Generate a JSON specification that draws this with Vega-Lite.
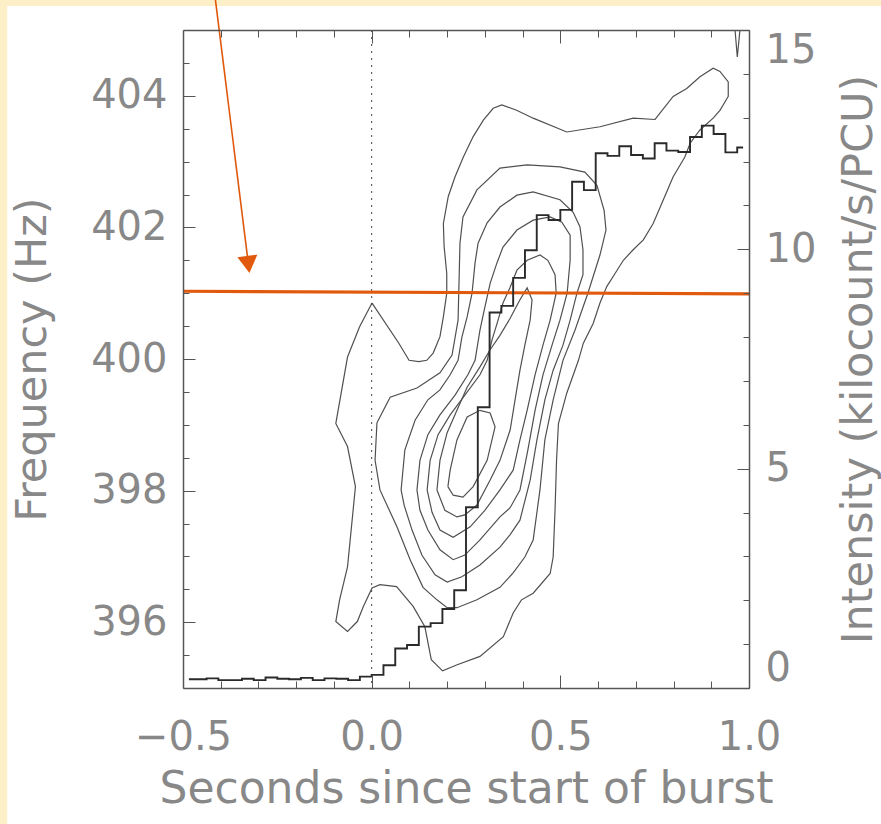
{
  "$schema": "https://vega.github.io/schema/vega-lite/v6.json",
  "width": 566,
  "height": 658,
  "autosize": {"type": "none"},
  "padding": {"left": 183, "top": 30, "right": 132, "bottom": 136},
  "background": "#fdefc7",
  "config": {
    "view": {"stroke": null},
    "axis": {"grid": false, "domainColor": "#555", "domainWidth": 1.5, "tickColor": "#555", "tickWidth": 1,
      "labelFont": "DejaVu Sans", "labelFontSize": 40, "labelColor": "#888", "labelOverlap": false, "labelBound": false,
      "titleFont": "DejaVu Sans", "titleFontSize": 43, "titleFontWeight": "normal", "titleColor": "#888"}
  },
  "datasets": {
    "contours": [
      {"c":1,"i":1,"t":0.001,"f":400.85},{"c":1,"i":2,"t":-0.032,"f":400.49},{"c":1,"i":3,"t":-0.064,"f":400.03},{"c":1,"i":4,"t":-0.095,"f":399.02},{"c":1,"i":5,"t":-0.064,"f":398.67},{"c":1,"i":6,"t":-0.043,"f":398.06},{"c":1,"i":7,"t":-0.064,"f":396.84},{"c":1,"i":8,"t":-0.085,"f":396.34},{"c":1,"i":9,"t":-0.095,"f":396.01},{"c":1,"i":10,"t":-0.064,"f":395.86},
      {"c":1,"i":11,"t":-0.038,"f":396.01},{"c":1,"i":12,"t":-0.022,"f":396.24},{"c":1,"i":13,"t":0.001,"f":396.52},{"c":1,"i":14,"t":0.022,"f":396.57},{"c":1,"i":15,"t":0.066,"f":396.54},{"c":1,"i":16,"t":0.110,"f":396.24},{"c":1,"i":17,"t":0.141,"f":395.93},{"c":1,"i":18,"t":0.158,"f":395.43},{"c":1,"i":19,"t":0.188,"f":395.26},{"c":1,"i":20,"t":0.225,"f":395.35},
      {"c":1,"i":21,"t":0.287,"f":395.48},{"c":1,"i":22,"t":0.349,"f":395.78},{"c":1,"i":23,"t":0.375,"f":396.14},{"c":1,"i":24,"t":0.397,"f":396.34},{"c":1,"i":25,"t":0.428,"f":396.44},{"c":1,"i":26,"t":0.473,"f":396.74},{"c":1,"i":27,"t":0.481,"f":396.99},{"c":1,"i":28,"t":0.486,"f":397.71},{"c":1,"i":29,"t":0.490,"f":398.47},{"c":1,"i":30,"t":0.495,"f":399.02},
      {"c":1,"i":31,"t":0.517,"f":399.48},{"c":1,"i":32,"t":0.548,"f":399.98},{"c":1,"i":33,"t":0.561,"f":400.24},{"c":1,"i":34,"t":0.587,"f":400.54},{"c":1,"i":35,"t":0.605,"f":400.85},{"c":1,"i":36,"t":0.623,"f":401.10},{"c":1,"i":37,"t":0.645,"f":401.30},{"c":1,"i":38,"t":0.667,"f":401.50},{"c":1,"i":39,"t":0.693,"f":401.66},{"c":1,"i":40,"t":0.720,"f":401.81},
      {"c":1,"i":41,"t":0.746,"f":402.06},{"c":1,"i":42,"t":0.773,"f":402.42},{"c":1,"i":43,"t":0.799,"f":402.77},{"c":1,"i":44,"t":0.830,"f":403.07},{"c":1,"i":45,"t":0.844,"f":403.28},{"c":1,"i":46,"t":0.870,"f":403.48},{"c":1,"i":47,"t":0.905,"f":403.66},{"c":1,"i":48,"t":0.923,"f":403.78},{"c":1,"i":49,"t":0.945,"f":403.99},{"c":1,"i":50,"t":0.945,"f":404.21},
      {"c":1,"i":51,"t":0.923,"f":404.37},{"c":1,"i":52,"t":0.905,"f":404.42},{"c":1,"i":53,"t":0.870,"f":404.29},{"c":1,"i":54,"t":0.835,"f":404.11},{"c":1,"i":55,"t":0.799,"f":403.99},{"c":1,"i":56,"t":0.751,"f":403.64},{"c":1,"i":57,"t":0.693,"f":403.66},{"c":1,"i":58,"t":0.605,"f":403.53},{"c":1,"i":59,"t":0.517,"f":403.45},{"c":1,"i":60,"t":0.428,"f":403.66},
      {"c":1,"i":61,"t":0.384,"f":403.78},{"c":1,"i":62,"t":0.345,"f":403.86},{"c":1,"i":63,"t":0.322,"f":403.81},{"c":1,"i":64,"t":0.296,"f":403.63},{"c":1,"i":65,"t":0.269,"f":403.38},{"c":1,"i":66,"t":0.243,"f":403.07},{"c":1,"i":67,"t":0.221,"f":402.77},{"c":1,"i":68,"t":0.203,"f":402.47},{"c":1,"i":69,"t":0.190,"f":402.06},{"c":1,"i":70,"t":0.192,"f":401.71},
      {"c":1,"i":71,"t":0.199,"f":401.30},{"c":1,"i":72,"t":0.199,"f":401.00},{"c":1,"i":73,"t":0.190,"f":400.64},{"c":1,"i":74,"t":0.181,"f":400.34},{"c":1,"i":75,"t":0.163,"f":400.09},{"c":1,"i":76,"t":0.146,"f":399.98},{"c":1,"i":77,"t":0.125,"f":399.96},{"c":1,"i":78,"t":0.099,"f":399.98},{"c":1,"i":79,"t":0.072,"f":400.24},{"c":1,"i":80,"t":0.001,"f":400.85},

      {"c":2,"i":1,"t":0.014,"f":399.03},{"c":2,"i":2,"t":0.049,"f":399.42},{"c":2,"i":3,"t":0.120,"f":399.56},{"c":2,"i":4,"t":0.181,"f":399.79},{"c":2,"i":5,"t":0.213,"f":400.06},{"c":2,"i":6,"t":0.229,"f":400.59},{"c":2,"i":7,"t":0.231,"f":401.05},{"c":2,"i":8,"t":0.234,"f":401.76},{"c":2,"i":9,"t":0.242,"f":402.16},{"c":2,"i":10,"t":0.279,"f":402.57},
      {"c":2,"i":11,"t":0.340,"f":402.90},{"c":2,"i":12,"t":0.412,"f":402.95},{"c":2,"i":13,"t":0.499,"f":402.92},{"c":2,"i":14,"t":0.565,"f":402.84},{"c":2,"i":15,"t":0.597,"f":402.64},{"c":2,"i":16,"t":0.616,"f":402.26},{"c":2,"i":17,"t":0.621,"f":401.96},{"c":2,"i":18,"t":0.605,"f":401.58},{"c":2,"i":19,"t":0.573,"f":401.00},{"c":2,"i":20,"t":0.539,"f":400.44},
      {"c":2,"i":21,"t":0.507,"f":399.98},{"c":2,"i":22,"t":0.481,"f":399.38},{"c":2,"i":23,"t":0.459,"f":398.77},{"c":2,"i":24,"t":0.446,"f":398.01},{"c":2,"i":25,"t":0.428,"f":397.25},{"c":2,"i":26,"t":0.406,"f":396.99},{"c":2,"i":27,"t":0.375,"f":396.75},{"c":2,"i":28,"t":0.340,"f":396.53},{"c":2,"i":29,"t":0.279,"f":396.34},{"c":2,"i":30,"t":0.226,"f":396.22},
      {"c":2,"i":31,"t":0.200,"f":396.22},{"c":2,"i":32,"t":0.173,"f":396.34},{"c":2,"i":33,"t":0.136,"f":396.53},{"c":2,"i":34,"t":0.102,"f":396.95},{"c":2,"i":35,"t":0.067,"f":397.45},{"c":2,"i":36,"t":0.022,"f":398.01},{"c":2,"i":37,"t":0.009,"f":398.46},{"c":2,"i":38,"t":0.014,"f":399.03},

      {"c":3,"i":1,"t":0.078,"f":398.01},{"c":3,"i":2,"t":0.088,"f":398.62},{"c":3,"i":3,"t":0.115,"f":399.07},{"c":3,"i":4,"t":0.149,"f":399.38},{"c":3,"i":5,"t":0.181,"f":399.53},{"c":3,"i":6,"t":0.208,"f":399.76},{"c":3,"i":7,"t":0.229,"f":399.98},{"c":3,"i":8,"t":0.239,"f":400.33},{"c":3,"i":9,"t":0.253,"f":400.64},{"c":3,"i":10,"t":0.266,"f":401.00},
      {"c":3,"i":11,"t":0.274,"f":401.46},{"c":3,"i":12,"t":0.282,"f":401.76},{"c":3,"i":13,"t":0.306,"f":402.07},{"c":3,"i":14,"t":0.340,"f":402.31},{"c":3,"i":15,"t":0.385,"f":402.49},{"c":3,"i":16,"t":0.428,"f":402.54},{"c":3,"i":17,"t":0.499,"f":402.42},{"c":3,"i":18,"t":0.534,"f":402.23},{"c":3,"i":19,"t":0.552,"f":402.01},{"c":3,"i":20,"t":0.560,"f":401.66},
      {"c":3,"i":21,"t":0.560,"f":401.28},{"c":3,"i":22,"t":0.544,"f":401.00},{"c":3,"i":23,"t":0.526,"f":400.59},{"c":3,"i":24,"t":0.507,"f":400.21},{"c":3,"i":25,"t":0.481,"f":399.83},{"c":3,"i":26,"t":0.459,"f":399.38},{"c":3,"i":27,"t":0.438,"f":398.77},{"c":3,"i":28,"t":0.420,"f":398.16},{"c":3,"i":29,"t":0.393,"f":397.55},{"c":3,"i":30,"t":0.367,"f":397.33},
      {"c":3,"i":31,"t":0.340,"f":397.14},{"c":3,"i":32,"t":0.287,"f":396.87},{"c":3,"i":33,"t":0.239,"f":396.69},{"c":3,"i":34,"t":0.200,"f":396.61},{"c":3,"i":35,"t":0.168,"f":396.72},{"c":3,"i":36,"t":0.133,"f":397.02},{"c":3,"i":37,"t":0.107,"f":397.40},{"c":3,"i":38,"t":0.086,"f":397.78},{"c":3,"i":39,"t":0.078,"f":398.01},

      {"c":4,"i":1,"t":0.120,"f":398.01},{"c":4,"i":2,"t":0.128,"f":398.46},{"c":4,"i":3,"t":0.149,"f":398.85},{"c":4,"i":4,"t":0.181,"f":399.15},{"c":4,"i":5,"t":0.221,"f":399.45},{"c":4,"i":6,"t":0.255,"f":399.76},{"c":4,"i":7,"t":0.274,"f":399.98},{"c":4,"i":8,"t":0.287,"f":400.44},{"c":4,"i":9,"t":0.300,"f":400.79},{"c":4,"i":10,"t":0.314,"f":401.15},
      {"c":4,"i":11,"t":0.332,"f":401.46},{"c":4,"i":12,"t":0.348,"f":401.70},{"c":4,"i":13,"t":0.385,"f":401.96},{"c":4,"i":14,"t":0.428,"f":402.11},{"c":4,"i":15,"t":0.473,"f":402.16},{"c":4,"i":16,"t":0.504,"f":402.08},{"c":4,"i":17,"t":0.526,"f":401.88},{"c":4,"i":18,"t":0.526,"f":401.50},{"c":4,"i":19,"t":0.518,"f":401.00},{"c":4,"i":20,"t":0.499,"f":400.59},
      {"c":4,"i":21,"t":0.478,"f":400.21},{"c":4,"i":22,"t":0.454,"f":399.76},{"c":4,"i":23,"t":0.433,"f":399.22},{"c":4,"i":24,"t":0.414,"f":398.62},{"c":4,"i":25,"t":0.393,"f":398.01},{"c":4,"i":26,"t":0.367,"f":397.74},{"c":4,"i":27,"t":0.340,"f":397.60},{"c":4,"i":28,"t":0.287,"f":397.25},{"c":4,"i":29,"t":0.247,"f":397.02},{"c":4,"i":30,"t":0.216,"f":396.95},
      {"c":4,"i":31,"t":0.181,"f":397.10},{"c":4,"i":32,"t":0.149,"f":397.40},{"c":4,"i":33,"t":0.128,"f":397.70},{"c":4,"i":34,"t":0.120,"f":398.01},

      {"c":5,"i":1,"t":0.147,"f":398.01},{"c":5,"i":2,"t":0.155,"f":398.46},{"c":5,"i":3,"t":0.176,"f":398.85},{"c":5,"i":4,"t":0.208,"f":399.15},{"c":5,"i":5,"t":0.247,"f":399.45},{"c":5,"i":6,"t":0.287,"f":399.76},{"c":5,"i":7,"t":0.306,"f":399.98},{"c":5,"i":8,"t":0.319,"f":400.29},{"c":5,"i":9,"t":0.335,"f":400.59},{"c":5,"i":10,"t":0.348,"f":400.85},
      {"c":5,"i":11,"t":0.367,"f":401.09},{"c":5,"i":12,"t":0.385,"f":401.35},{"c":5,"i":13,"t":0.412,"f":401.50},{"c":5,"i":14,"t":0.446,"f":401.58},{"c":5,"i":15,"t":0.467,"f":401.50},{"c":5,"i":16,"t":0.486,"f":401.28},{"c":5,"i":17,"t":0.489,"f":401.00},{"c":5,"i":18,"t":0.473,"f":400.59},{"c":5,"i":19,"t":0.454,"f":400.21},{"c":5,"i":20,"t":0.433,"f":399.76},
      {"c":5,"i":21,"t":0.412,"f":399.22},{"c":5,"i":22,"t":0.393,"f":398.77},{"c":5,"i":23,"t":0.375,"f":398.31},{"c":5,"i":24,"t":0.340,"f":398.01},{"c":5,"i":25,"t":0.300,"f":397.70},{"c":5,"i":26,"t":0.261,"f":397.45},{"c":5,"i":27,"t":0.216,"f":397.29},{"c":5,"i":28,"t":0.181,"f":397.40},{"c":5,"i":29,"t":0.160,"f":397.67},{"c":5,"i":30,"t":0.147,"f":398.01},

      {"c":6,"i":1,"t":0.173,"f":398.01},{"c":6,"i":2,"t":0.181,"f":398.46},{"c":6,"i":3,"t":0.200,"f":398.88},{"c":6,"i":4,"t":0.226,"f":399.22},{"c":6,"i":5,"t":0.253,"f":399.57},{"c":6,"i":6,"t":0.287,"f":399.88},{"c":6,"i":7,"t":0.314,"f":400.14},{"c":6,"i":8,"t":0.340,"f":400.36},{"c":6,"i":9,"t":0.367,"f":400.62},{"c":6,"i":10,"t":0.393,"f":400.90},
      {"c":6,"i":11,"t":0.412,"f":401.08},{"c":6,"i":12,"t":0.425,"f":400.90},{"c":6,"i":13,"t":0.420,"f":400.59},{"c":6,"i":14,"t":0.406,"f":400.21},{"c":6,"i":15,"t":0.393,"f":399.83},{"c":6,"i":16,"t":0.380,"f":399.38},{"c":6,"i":17,"t":0.367,"f":398.92},{"c":6,"i":18,"t":0.340,"f":398.46},{"c":6,"i":19,"t":0.314,"f":398.16},{"c":6,"i":20,"t":0.279,"f":397.78},
      {"c":6,"i":21,"t":0.247,"f":397.63},{"c":6,"i":22,"t":0.226,"f":397.60},{"c":6,"i":23,"t":0.194,"f":397.70},{"c":6,"i":24,"t":0.173,"f":398.01},

      {"c":7,"i":1,"t":0.202,"f":398.06},{"c":7,"i":2,"t":0.208,"f":398.31},{"c":7,"i":3,"t":0.226,"f":398.77},{"c":7,"i":4,"t":0.253,"f":399.12},{"c":7,"i":5,"t":0.287,"f":399.22},{"c":7,"i":6,"t":0.314,"f":399.18},{"c":7,"i":7,"t":0.327,"f":398.97},{"c":7,"i":8,"t":0.306,"f":398.46},{"c":7,"i":9,"t":0.269,"f":398.06},{"c":7,"i":10,"t":0.242,"f":397.90},{"c":7,"i":11,"t":0.216,"f":397.93},{"c":7,"i":12,"t":0.202,"f":398.06},

      {"c":8,"i":1,"t":0.963,"f":405.0},{"c":8,"i":2,"t":0.969,"f":404.59},{"c":8,"i":3,"t":0.976,"f":405.0}
    ],
    "hist": [
      {"t":-0.484375,"v":0.20},{"t":-0.453125,"v":0.20},{"t":-0.421875,"v":0.22},{"t":-0.390625,"v":0.18},{"t":-0.359375,"v":0.18},{"t":-0.328125,"v":0.21},{"t":-0.296875,"v":0.18},{"t":-0.265625,"v":0.24},
      {"t":-0.234375,"v":0.21},{"t":-0.203125,"v":0.20},{"t":-0.171875,"v":0.23},{"t":-0.140625,"v":0.18},{"t":-0.109375,"v":0.22},{"t":-0.078125,"v":0.21},{"t":-0.046875,"v":0.18},{"t":-0.015625,"v":0.26},
      {"t":0.015625,"v":0.30},{"t":0.046875,"v":0.52},{"t":0.078125,"v":0.90},{"t":0.109375,"v":0.98},{"t":0.140625,"v":1.40},{"t":0.171875,"v":1.48},{"t":0.203125,"v":1.80},{"t":0.234375,"v":2.23},
      {"t":0.265625,"v":4.12},{"t":0.296875,"v":6.40},{"t":0.328125,"v":8.56},{"t":0.359375,"v":8.71},{"t":0.390625,"v":9.35},{"t":0.421875,"v":9.98},{"t":0.453125,"v":10.78},{"t":0.484375,"v":10.67},
      {"t":0.515625,"v":10.90},{"t":0.546875,"v":11.54},{"t":0.578125,"v":11.35},{"t":0.609375,"v":12.19},{"t":0.640625,"v":12.13},{"t":0.671875,"v":12.35},{"t":0.703125,"v":12.15},{"t":0.734375,"v":12.07},
      {"t":0.765625,"v":12.42},{"t":0.796875,"v":12.25},{"t":0.828125,"v":12.22},{"t":0.859375,"v":12.56},{"t":0.890625,"v":12.82},{"t":0.921875,"v":12.63},{"t":0.953125,"v":12.21},{"t":0.984375,"v":12.32}
    ]
  },
  "layer": [
    {
      "data": {"values": [{}]},
      "mark": {"type": "rect", "fill": "white", "strokeWidth": 0},
      "encoding": {
        "x": {"datum": -0.966, "type": "quantitative", "scale": {"domain": [-0.5, 1.0], "nice": false, "zero": false}, "axis": null},
        "x2": {"datum": 1.4},
        "y": {"datum": 405.365, "type": "quantitative", "scale": {"domain": [395, 405], "nice": false, "zero": false}, "axis": null},
        "y2": {"datum": 392.8}
      }
    },
    {
      "data": {"name": "contours"},
      "mark": {"type": "line", "stroke": "#505050", "strokeWidth": 1.2},
      "encoding": {
        "x": {"field": "t", "type": "quantitative", "scale": {"domain": [-0.5, 1.0], "nice": false, "zero": false},
          "axis": {"orient": "bottom", "zindex": 1, "values": [-0.5,-0.4,-0.3,-0.2,-0.1,0,0.1,0.2,0.3,0.4,0.5,0.6,0.7,0.8,0.9,1.0],
            "tickSize": {"condition": {"test": "abs(datum.value*2 - round(datum.value*2)) < 0.001", "value": -13}, "value": -7},
            "labelExpr": "abs(datum.value*2 - round(datum.value*2)) < 0.001 ? format(datum.value, '.1f') : ''",
            "labelFlush": false, "labelPadding": 42, "title": "Seconds since start of burst", "titleFontSize": 44, "titlePadding": 4}},
        "y": {"field": "f", "type": "quantitative", "scale": {"domain": [395, 405], "nice": false, "zero": false},
          "axis": {"orient": "left", "zindex": 1, "values": [395.5,396,396.5,397,397.5,398,398.5,399,399.5,400,400.5,401,401.5,402,402.5,403,403.5,404,404.5],
            "tickSize": {"condition": {"test": "datum.value % 2 === 0", "value": -12}, "value": -6},
            "labelExpr": "datum.value % 2 === 0 ? format(datum.value, 'd') : ''",
            "labelFlush": false, "labelPadding": 28, "title": "Frequency (Hz)", "titlePadding": 36}},
        "detail": {"field": "c", "type": "nominal"},
        "order": {"field": "i", "type": "quantitative"}
      }
    },
    {
      "data": {"values": [{}]},
      "mark": {"type": "rule", "stroke": "#444", "strokeWidth": 1, "strokeDash": [2, 5]},
      "encoding": {
        "x": {"datum": 0, "type": "quantitative", "scale": {"domain": [-0.5, 1.0], "nice": false, "zero": false}, "axis": null}
      }
    },
    {
      "data": {"values": [{"t": -0.5, "f": 401.03}, {"t": 1.0, "f": 400.99}]},
      "mark": {"type": "line", "stroke": "#e0590c", "strokeWidth": 3.2},
      "encoding": {
        "x": {"field": "t", "type": "quantitative", "scale": {"domain": [-0.5, 1.0], "nice": false, "zero": false}, "axis": null},
        "y": {"field": "f", "type": "quantitative", "scale": {"domain": [395, 405], "nice": false, "zero": false}, "axis": null}
      }
    },
    {
      "data": {"values": [{}]},
      "mark": {"type": "rule", "stroke": "#e0590c", "strokeWidth": 1.6},
      "encoding": {
        "x": {"datum": -0.414, "type": "quantitative", "scale": {"domain": [-0.5, 1.0], "nice": false, "zero": false}, "axis": null},
        "y": {"datum": 405.456, "type": "quantitative", "scale": {"domain": [395, 405], "nice": false, "zero": false}, "axis": null},
        "x2": {"datum": -0.3267},
        "y2": {"datum": 401.44}
      }
    },
    {
      "data": {"values": [{}]},
      "mark": {"type": "point", "shape": "triangle-down", "filled": true, "size": 400, "angle": -7, "color": "#e0590c", "opacity": 1},
      "encoding": {
        "x": {"datum": -0.3267, "type": "quantitative", "scale": {"domain": [-0.5, 1.0], "nice": false, "zero": false}, "axis": null},
        "y": {"datum": 401.436, "type": "quantitative", "scale": {"domain": [395, 405], "nice": false, "zero": false}, "axis": null}
      }
    },
    {
      "data": {"name": "hist"},
      "mark": {"type": "line", "interpolate": "step", "stroke": "#2a2a2a", "strokeWidth": 1.9},
      "encoding": {
        "x": {"field": "t", "type": "quantitative", "scale": {"domain": [-0.5, 1.0], "nice": false, "zero": false},
          "axis": {"orient": "top", "zindex": 1, "values": [-0.5,-0.4,-0.3,-0.2,-0.1,0,0.1,0.2,0.3,0.4,0.5,0.6,0.7,0.8,0.9,1.0],
            "tickSize": {"condition": {"test": "abs(datum.value*2 - round(datum.value*2)) < 0.001", "value": -13}, "value": -7},
            "labels": false, "title": null}},
        "y": {"field": "v", "type": "quantitative", "scale": {"domain": [0, 15], "nice": false, "zero": false},
          "axis": {"orient": "right", "zindex": 1, "values": [0,1,2,3,4,5,6,7,8,9,10,11,12,13,14,15],
            "tickSize": {"condition": {"test": "datum.value % 5 === 0", "value": -12}, "value": -6},
            "labelExpr": "datum.value % 5 === 0 ? format(datum.value, 'd') : ''",
            "labelFlush": true, "labelPadding": 28,
            "title": "Intensity (kilocount/s/PCU)", "titleAngle": 270, "titleBaseline": "top", "titlePadding": 22}}
      }
    }
  ],
  "resolve": {"scale": {"y": "independent"}, "axis": {"x": "independent"}}
}
